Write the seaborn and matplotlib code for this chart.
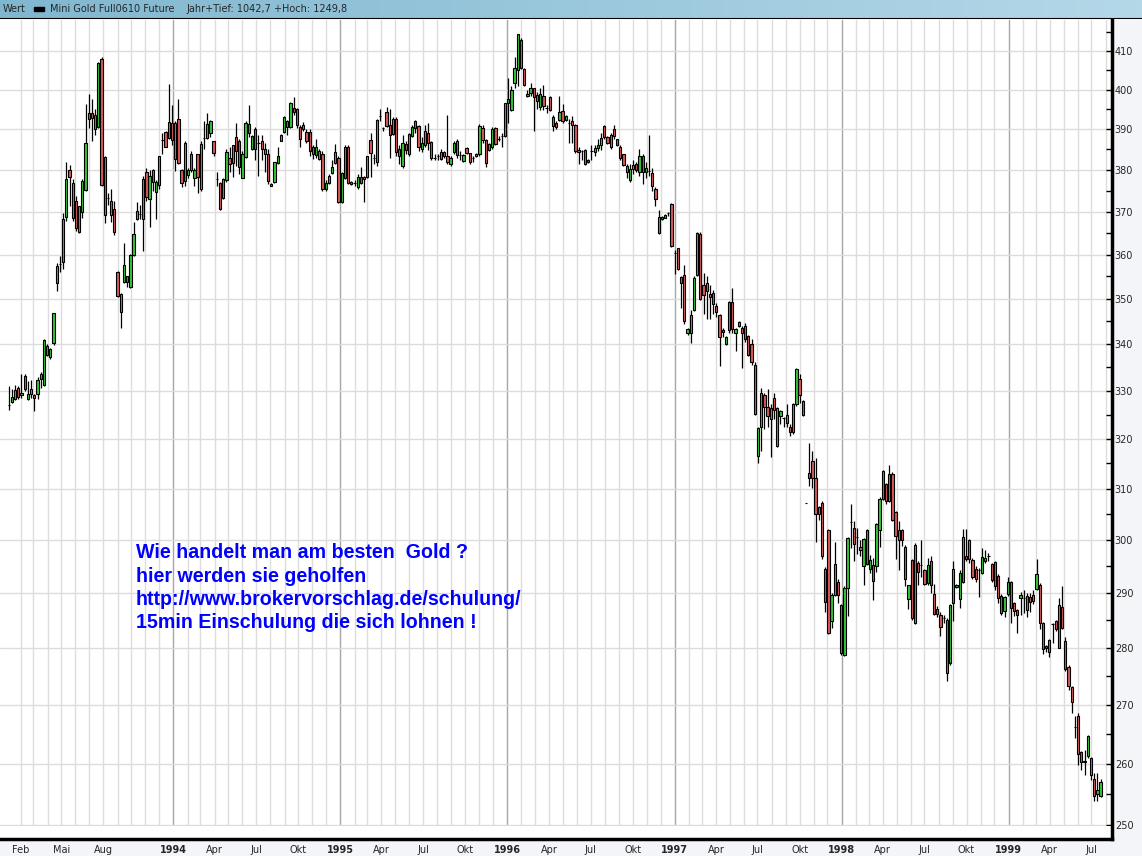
import numpy as np
import pandas as pd
import seaborn as sns
import matplotlib
matplotlib.use("Agg")
import matplotlib.pyplot as plt
import matplotlib.dates as mdates
from matplotlib.ticker import FixedLocator, NullFormatter, FuncFormatter
from matplotlib.colors import LinearSegmentedColormap
from matplotlib.patches import Rectangle

sns.set_theme(style="white")
plt.rcParams['font.family'] = ['DejaVu Sans']

# weekly candles (Jan 1993 - Jul 1999)
start_date = "1993-01-06"

opens = [
    327, 327.6, 328.2, 330.5, 329, 333.2, 328.2, 329.2, 329, 329.3,
    333.5, 331.2, 339.5, 337.1, 340.2, 353.4, 357.9, 358.3, 368.7, 380,
    368.5, 372.6, 365.2, 369.8, 375.2, 394, 394, 393.6, 390.5, 407.9,
    383.2, 373.2, 372.5, 370.6, 356.1, 347, 353.8, 355, 352.6, 360,
    368.3, 369.5, 368.3, 379.4, 373, 380, 374.6, 376.3, 387.3, 389.4,
    387.8, 391.6, 382.7, 392.5, 380, 377.4, 378.8, 384, 378, 383.8,
    375.4, 387.9, 387.8, 389, 387, 377.7, 376.9, 373.2, 377.5, 382.8,
    381.7, 388, 387, 378, 383.2, 391.2, 385.2, 390, 386.5, 387,
    385, 384, 376.7, 377, 381.7, 387.2, 389.3, 392, 390.5, 395.3,
    395, 390.6, 390, 389.4, 389.4, 385.6, 383.6, 382.7, 384, 375.4,
    376.9, 379.3, 381.7, 383, 372.2, 385.5, 385.5, 376.6, 376.8, 375.8,
    378.4, 378.4, 378.4, 387.3, 383, 381.9, 393.2, 390.2, 394.3, 391,
    388.7, 392.5, 385, 381, 386.3, 383.8, 388.2, 392, 390.7, 385.1,
    386, 389, 386.8, 383, 383.3, 382.7, 384.4, 383.3, 381.5, 384.4,
    387.1, 383.7, 382.2, 385.3, 384.1, 382.8, 383.4, 383.8, 390.4, 387.3,
    384.9, 385.5, 390.4, 387.7, 388.2, 388.2, 396.5, 394.9, 401.8, 405.1,
    413, 405.3, 399, 399.2, 400.3, 398.6, 395.7, 398.3, 395.4, 398.2,
    393, 391.5, 392.4, 394.7, 392.2, 391.5, 392, 391, 384.8, 384.6,
    384.8, 382, 384.5, 384.3, 385.4, 386, 390.7, 388, 385.6, 390,
    387.5, 385.6, 383.8, 381, 377.6, 380.1, 381.5, 379.5, 383.4, 379.5,
    379.7, 379.3, 375.3, 365, 368.3, 368.6, 369.6, 371.8, 360.4, 361.4,
    354.9, 355.3, 342.3, 342.5, 347.5, 355.3, 364.8, 353, 351.8, 351.1,
    351.2, 348.4, 346.4, 343.1, 340, 343, 349.3, 342.4, 343.9, 343.5,
    344, 341.8, 340, 335.4, 316.6, 322.4, 329.1, 326.5, 324, 328.5,
    318.5, 324.8, 324.2, 323.2, 322.4, 321.3, 327.1, 332.4, 327.8, 307.2,
    312.1, 315.6, 312.1, 304.9, 307.2, 294.5, 301.8, 284.8, 289.6, 292,
    287.7, 278.8, 291, 303.4, 302.3, 300.5, 298.6, 295.1, 301.8, 294.4,
    295.3, 295, 301.9, 313.5, 310.8, 307.6, 312.9, 305.3, 300, 301.9,
    298.6, 288.9, 296.1, 284.5, 295.5, 295.2, 294.3, 291.8, 296, 289.8,
    286.1, 286, 285.4, 285, 277.3, 288.2, 291.1, 288.9, 292.1, 297,
    296.4, 296.2, 294.4, 294.3, 293.8, 295.9, 296.9, 295.4, 295.8, 293.1,
    289.5, 286.7, 289.8, 292.1, 288.1, 286.8, 289, 289, 286.9, 289.2,
    288.5, 290.7, 291.5, 284.4, 280.3, 279.3, 284.3, 284.8, 280, 287.4,
    281.3, 276.6, 273, 266.2, 268.1, 262, 260.5, 261.3, 261, 257.5,
    255, 254.7,
]

highs = [
    331, 330.3, 331.2, 331, 333.5, 333.5, 332, 332.2, 329.3, 333,
    334, 341, 340, 339.2, 346.8, 358, 359.7, 369.6, 381.9, 381.1,
    377.7, 373.8, 371.3, 377.9, 396.4, 399, 397.5, 395, 407, 408.5,
    383.5, 374.5, 375.5, 372.5, 356.2, 351.2, 362.7, 355.2, 360.2, 367.5,
    372.3, 371.5, 378.5, 380.4, 380, 380.2, 377.5, 383.5, 389, 389.5,
    401.5, 396, 392, 397.5, 380.2, 387, 380.5, 384.5, 380.5, 384,
    387, 392, 394, 392.2, 387.2, 379.6, 377, 378, 385, 385.5,
    386.2, 391.6, 387.5, 384.5, 392, 396.2, 388.5, 390.5, 388.5, 388.5,
    386.5, 385, 376.8, 382, 385.5, 388.8, 393.2, 392.2, 396.8, 398.1,
    395.3, 391, 391.8, 390, 390, 386, 387.5, 385, 384.5, 377.5,
    379, 382.5, 386.4, 383.3, 379.5, 386, 386, 377.3, 377.5, 379,
    380.7, 378.5, 383.5, 389, 384, 392.5, 395, 390.5, 395.5, 395,
    393, 393, 386, 388.5, 387, 389, 391, 392.3, 391, 388,
    391, 391.5, 387, 384, 384, 385, 384.6, 393.5, 383.5, 387,
    387.5, 384.6, 384, 385.5, 384.2, 383.5, 384.2, 391.2, 391, 387.5,
    386.6, 390.5, 390.5, 388.3, 389, 396.7, 403, 401, 408.5, 414.5,
    413.5, 405.5, 400, 401.8, 400.5, 399.5, 400.5, 401.3, 396, 398.5,
    393.5, 392, 398.5, 396.3, 393.5, 392.5, 393.3, 391.3, 385.6, 384.8,
    385, 382.7, 386, 386, 387.5, 389, 391, 388.3, 389, 391,
    387.7, 386, 384, 381.5, 381.5, 382.5, 382, 385.2, 384, 382,
    388.5, 380.5, 375.8, 370.5, 369, 369.5, 370, 372, 361, 361.6,
    355, 357.5, 343.5, 347.5, 355, 365.2, 365.3, 355.7, 355, 353,
    352, 349, 346.5, 343.5, 341.7, 349.5, 352.3, 343.5, 345, 344,
    344.5, 342, 341, 336, 322.5, 330.5, 329.5, 330.3, 327.2, 329.5,
    326.5, 326, 324.5, 327.3, 323, 327.5, 334.8, 333.5, 328, 307.2,
    319.2, 317.6, 316.2, 306.5, 307.5, 294.8, 302, 290, 299.6, 292.5,
    288, 291.3, 300.5, 307, 303.6, 302.3, 300, 300.3, 302, 297.2,
    296.5, 303.2, 308.3, 313.7, 311, 314.7, 313.2, 305.5, 303.6, 302,
    299, 291.5, 296.3, 299.3, 296, 300, 294.5, 296.6, 297, 291.7,
    287.5, 286.5, 286, 285.3, 288, 296, 291.7, 294.2, 302, 302,
    300.2, 296.5, 295, 294.6, 298.5, 298, 297.5, 295.5, 296, 293.5,
    289.8, 289.5, 293, 292.3, 288.3, 287, 290.2, 290.5, 290, 290,
    290.5, 296.4, 291.8, 284.6, 280.5, 281.5, 284.5, 285, 289.1, 291.2,
    282, 276.9, 273.2, 268.1, 268.5, 262.2, 262.3, 264.8, 261.2, 258.4,
    258.4, 257.5,
]

lows = [
    326, 327.5, 328, 328.3, 328.5, 330, 328, 328.5, 325.7, 328.2,
    330.5, 331, 337.5, 336.8, 339.8, 351.8, 356, 356.7, 367.7, 371.3,
    367.7, 365.5, 365, 368.5, 375, 390.3, 387, 388.6, 390.3, 376,
    367.3, 371.5, 367.5, 364.5, 350.3, 343.4, 353.5, 352.5, 352.3, 359.7,
    368, 368.3, 360.7, 372.5, 366.3, 375, 368.2, 375.5, 383.8, 385.5,
    387.5, 386.2, 379.7, 381.5, 375.8, 376, 378, 379.5, 376, 374.4,
    375, 385, 387.5, 388, 383.5, 376, 370.5, 373, 377, 379.5,
    378.4, 381, 379, 378, 383, 388, 384.8, 382.5, 378.5, 382.5,
    379.5, 376.5, 376, 376.8, 381.5, 387, 389, 388.5, 390.3, 393.5,
    390.2, 385.5, 389.5, 386.5, 383.3, 382.7, 382.8, 382.5, 375, 375,
    376.5, 379, 381.5, 372, 372, 377.8, 376.5, 376.4, 376, 375.5,
    376.5, 372.2, 378, 378.3, 381.5, 381, 392, 389.5, 390.5, 382.8,
    388.5, 383.5, 381.5, 380.5, 384, 383.3, 388, 389, 384.6, 384.3,
    385.5, 384.8, 382.5, 382.3, 382.5, 382.5, 383, 381.5, 381, 384,
    383, 382.5, 382, 383.8, 381.5, 382, 383.2, 383.5, 386.7, 380.8,
    384.6, 385.2, 386, 387, 385.7, 388, 391.5, 394.5, 400.5, 401,
    405.4, 401, 398, 398.5, 389.5, 395, 394.8, 394.8, 394, 394.5,
    389.5, 390, 392, 391.5, 392, 386.5, 386.6, 384.2, 381.5, 382.5,
    381.3, 381.8, 382.5, 383.5, 384.5, 384.8, 387.5, 386.3, 385, 387.5,
    385.8, 382.5, 381, 378, 377, 379, 379.5, 378.5, 376.5, 378,
    378.5, 375, 371.3, 364.8, 368, 368.4, 369, 361.8, 355.5, 356.4,
    348, 344.3, 342, 340.2, 347.3, 355, 349.6, 346.5, 345.5, 345.5,
    346.5, 346, 335.3, 341.5, 339.8, 342.5, 342.5, 338.5, 343.7, 334.8,
    340.5, 337.5, 335.5, 325, 315, 317.5, 322, 322.5, 316.3, 324,
    318.3, 323, 322.4, 322.5, 320.5, 321, 326.8, 327.5, 324.7, 307.2,
    310.5, 310.2, 299.6, 303.8, 296.3, 286.5, 282.4, 283.5, 289.4, 288.2,
    278.8, 278.5, 285.8, 298.5, 296, 297.3, 297, 291.4, 295.2, 293.8,
    288.6, 293.9, 298.6, 307.7, 307, 307.4, 303.6, 296.3, 294.2, 298.8,
    291.3, 287, 285, 284.3, 291.5, 293, 291.5, 291.5, 290, 286,
    285.5, 282.2, 284.5, 274.2, 277, 284.8, 290.9, 287.3, 291.9, 296,
    295.5, 292.5, 292, 289.2, 293.5, 295.5, 296, 292, 290.5, 288.2,
    286, 285.6, 289.5, 284.4, 285.8, 282.7, 286, 286.3, 285.5, 286.5,
    288, 290.5, 283.3, 278.9, 279.3, 278.3, 280.8, 283, 279.9, 283.3,
    275.8, 272.6, 268.5, 264.4, 259.8, 259, 258.2, 261, 257.3, 253.9,
    253.9, 254.5,
]

closes = [
    327, 328.7, 330.1, 328.7, 329.6, 330.4, 329.2, 330.4, 328.5, 332.3,
    332.5, 340.9, 337.7, 339, 346.8, 357.3, 357.9, 368.3, 377.8, 378.3,
    376.9, 366.2, 371.3, 377.2, 386.7, 392.5, 392.9, 390, 406.8, 376.3,
    369.2, 373.2, 369.2, 365.2, 350.5, 351.1, 357.5, 353.8, 360, 364.8,
    370.2, 369.5, 377.8, 373.4, 378.6, 377.1, 377, 383.3, 387.3, 385.7,
    391.9, 387.4, 391.5, 381.7, 376.8, 386.7, 380, 380, 380, 378.3,
    386.3, 387.9, 391.3, 392, 384.2, 377.7, 370.6, 377.9, 384.4, 381.5,
    386, 384.6, 380.7, 384, 391.6, 389, 388.2, 385.2, 386.5, 385,
    384, 377.2, 376.2, 381.9, 383.3, 388.6, 393.1, 390.5, 396.5, 394.2,
    391, 387.7, 391, 387, 384.6, 384, 385.6, 384.6, 375.4, 376.9,
    378.6, 380.7, 384.4, 372.2, 379.3, 378, 376.9, 377, 376.8, 378.4,
    376.9, 377.8, 383.3, 384.2, 383, 392.3, 393.2, 390.2, 390.7, 388.6,
    392.5, 384.4, 383.3, 386.7, 384.8, 388.7, 390.5, 390.4, 385.6, 386.7,
    389.6, 386.7, 382.8, 383, 383.3, 384.4, 383.3, 381.9, 383, 386.6,
    383.7, 383.7, 383.7, 384.1, 382, 382.8, 384, 390.7, 387.3, 381.7,
    386.3, 390.1, 386.4, 387.7, 388.2, 396.5, 397.7, 400, 405.5, 414.4,
    405.6, 401.3, 398.4, 400.3, 398.2, 397.1, 399, 395.8, 395.4, 394.9,
    390.7, 390.5, 394.2, 392, 393.2, 391.5, 391, 384.6, 384.3, 384.6,
    381.5, 382.5, 384.5, 385.4, 386.2, 387.8, 388, 386.5, 388.6, 388.4,
    386, 382.9, 381.2, 379.6, 380.3, 381.1, 380, 383.4, 379.5, 380.5,
    379.7, 376.1, 372.9, 368.8, 368.8, 369.3, 369.6, 362, 360.4, 356.6,
    353.5, 345, 343.3, 346.4, 354.6, 365, 350, 350.9, 353.6, 350.4,
    348.7, 347, 341.5, 342.6, 341.5, 349.3, 343.3, 343.2, 344.8, 342.4,
    341.1, 337.7, 336, 325.2, 322.3, 329.6, 326.6, 324.7, 326.4, 325.9,
    326.4, 325.8, 324.2, 324.9, 321.3, 327.1, 334.7, 329.1, 324.9, 307.2,
    313.1, 312.1, 304.9, 306.4, 296.9, 288.4, 282.6, 289.6, 295.4, 289.6,
    279, 291, 300.4, 303.4, 299.2, 300.5, 298.1, 300.2, 295.4, 296.2,
    292.3, 303.1, 307.9, 307.9, 307.6, 312.9, 303.8, 300.8, 301.9, 300,
    292.5, 291.4, 285.3, 299.1, 293.9, 295.2, 291.7, 295.3, 291.4, 286.2,
    287, 283.8, 285.4, 275.5, 287.8, 294.4, 291.5, 293.7, 300.6, 296.4,
    300, 293, 292.6, 294.3, 296.7, 296.6, 296.9, 292.4, 291.3, 289,
    286.3, 289.3, 292.1, 287.3, 286.7, 286, 289.6, 289, 289.5, 288.4,
    289.6, 293.5, 284.4, 279.7, 280, 281.4, 284.3, 283.4, 287.8, 283.5,
    276.2, 273.3, 270.4, 266.2, 261.6, 260.3, 260.3, 264.6, 258.2, 254.7,
    255.7, 257,
]

tick_dates = [
    "1993-02-01", "1993-05-01", "1993-08-01",
    "1994-01-01", "1994-04-01", "1994-07-01", "1994-10-01",
    "1995-01-01", "1995-04-01", "1995-07-01", "1995-10-01",
    "1996-01-01", "1996-04-01", "1996-07-01", "1996-10-01",
    "1997-01-01", "1997-04-01", "1997-07-01", "1997-10-01",
    "1998-01-01", "1998-04-01", "1998-07-01", "1998-10-01",
    "1999-01-01", "1999-04-01", "1999-07-01",
]
tick_labels = [
    "Feb", "Mai", "Aug",
    "1994", "Apr", "Jul", "Okt",
    "1995", "Apr", "Jul", "Okt",
    "1996", "Apr", "Jul", "Okt",
    "1997", "Apr", "Jul", "Okt",
    "1998", "Apr", "Jul", "Okt",
    "1999", "Apr", "Jul",
]
price_ticks = list(range(250, 420, 10))
price_minor = list(range(255, 420, 10))

note_lines = [
    "Wie handelt man am besten  Gold ?",
    "hier werden sie geholfen",
    "http://www.brokervorschlag.de/schulung/",
    "15min Einschulung die sich lohnen !",
]

df = pd.DataFrame({
    "date": pd.date_range(start_date, periods=len(closes), freq="7D"),
    "open": opens, "high": highs, "low": lows, "close": closes,
})
df["x"] = mdates.date2num(df["date"])
df["up"] = df["close"] >= df["open"]

W, H = 1142, 856
fig = plt.figure(figsize=(W / 100, H / 100), dpi=100, facecolor="#f3f5f8")

ax = fig.add_axes([0, 1 - 839 / H, 1112 / W, (839 - 20) / H])
ax.set_facecolor("white")
ax.set_yscale("log")
ax.set_ylim(247.8, 418.2)
ax.set_xlim(mdates.date2num(pd.Timestamp("1992-12-18")),
            mdates.date2num(pd.Timestamp("1999-08-15")))
ax.set_axisbelow(True)

# month grid, darker lines at new year
for m in pd.date_range("1993-02-01", "1999-08-01", freq="MS"):
    ax.axvline(mdates.date2num(m), color="#a6a6a6" if m.month == 1 else "#dcdcdc",
               lw=1, zorder=0.5)
ax.yaxis.grid(True, which="major", color="#dcdcdc", lw=1)
ax.xaxis.grid(False)
ax.axhspan(247.8, 249.8, color="white", lw=0, zorder=0.8)

# candles
ax.vlines(df["x"], df["low"], df["high"], color="black", lw=0.9, zorder=2)
for up, col in [(True, "#36c936"), (False, "#dc5a5a")]:
    d = df[df["up"] == up]
    ax.bar(d["x"], d["close"] - d["open"], bottom=d["open"], width=5.0,
           color=col, edgecolor="black", lw=0.8, zorder=3)

# y axis on the right
ax.yaxis.tick_right()
ax.yaxis.set_major_locator(FixedLocator(price_ticks))
ax.yaxis.set_minor_locator(FixedLocator(price_minor))
ax.yaxis.set_major_formatter(FuncFormatter(lambda v, p: f"{v:.0f}"))
ax.yaxis.set_minor_formatter(NullFormatter())
ax.tick_params(axis="y", which="both", direction="in", length=4, width=1,
               color="black", labelsize=7, pad=2)

# x axis
ax.xaxis.set_major_locator(FixedLocator(mdates.date2num(pd.to_datetime(tick_dates))))
ax.set_xticklabels(tick_labels)
for lab in ax.get_xticklabels():
    if lab.get_text().isdigit():
        lab.set_fontweight("bold")
        lab.set_fontsize(6.8)
ax.tick_params(axis="x", which="major", direction="out", length=3, width=1,
               color="black", labelsize=7, pad=1)
ax.xaxis.set_minor_locator(FixedLocator([]))

for side in ["top", "left"]:
    ax.spines[side].set_visible(False)
for side in ["bottom", "right"]:
    ax.spines[side].set_visible(True)
    ax.spines[side].set_color("black")
    ax.spines[side].set_linewidth(2.5)

# header bar
hax = fig.add_axes([0, 1 - 19 / H, 1, 19 / H])
cmap = LinearSegmentedColormap.from_list("hdr", ["#80b7d0", "#b4d8e8"])
hax.imshow(np.linspace(0, 1, 256).reshape(1, -1), aspect="auto", cmap=cmap,
           extent=[0, 1, 0, 1])
hax.set_xlim(0, 1)
hax.set_ylim(0, 1)
hax.axis("off")
hax.axhline(0.02, color="black", lw=1.5)
hax.text(3 / W, 0.55, "Wert", va="center", ha="left", fontsize=7)
hax.add_patch(Rectangle((34 / W, 0.42), 10 / W, 0.22, color="black"))
hax.text(50 / W, 0.55, "Mini Gold Full0610 Future", va="center", ha="left", fontsize=7)
hax.text(186 / W, 0.55, "Jahr+Tief: 1042,7 +Hoch: 1249,8", va="center", ha="left",
         fontsize=7)

# advert text
for i, line in enumerate(note_lines):
    fig.text(136 / W, 1 - (553 + 23.3 * i) / H, line, color="#0000ff",
             fontweight="bold", fontsize=14.1, va="center", ha="left",
             family=["Liberation Sans", "DejaVu Sans"])

fig.savefig("out.png", dpi=100, facecolor=fig.get_facecolor())
